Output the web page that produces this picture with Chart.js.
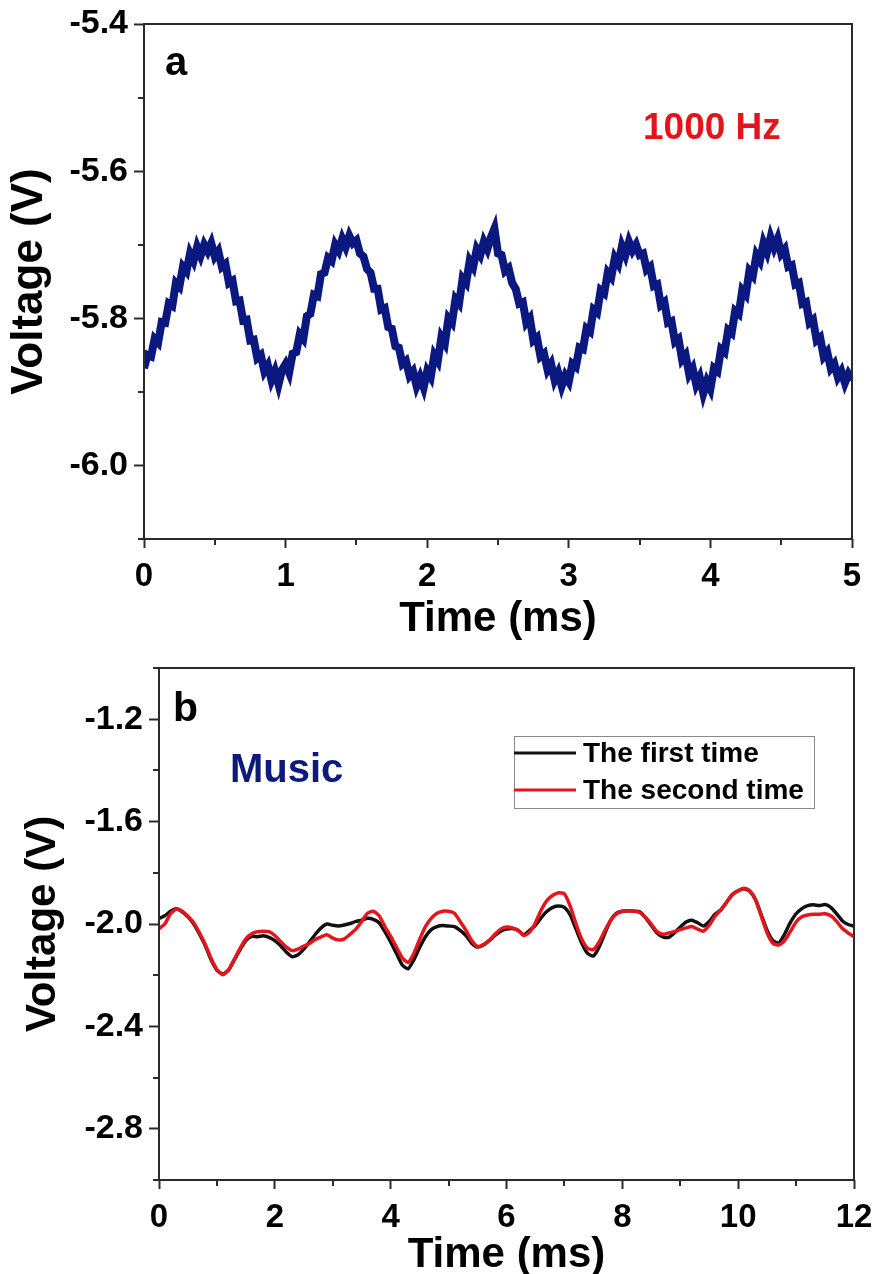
<!DOCTYPE html>
<html>
<head>
<meta charset="utf-8">
<script src="https://cdn.jsdelivr.net/npm/chart.js@4.4.1/dist/chart.umd.min.js"></script>
<style>
  html, body { margin: 0; padding: 0; background: #fff; }
  body { width: 876px; height: 1274px; position: relative; overflow: hidden;
         font-family: "Liberation Sans", Arial, sans-serif; }
  .panel { position: absolute; left: 0; width: 876px; }
  #pa { top: 0; height: 640px; }
  #pb { top: 640px; height: 634px; }
  .note { position: absolute; font-weight: bold; white-space: nowrap; line-height: 1; }
  #la { left: 165px; top: 41px; font-size: 40px; color: #000; }
  #hz { left: 643px; top: 108px; font-size: 37px; color: #e3141c; }
  #lb { left: 173px; top: 687px; font-size: 41px; color: #000; }
  #mu { left: 230px; top: 748px; font-size: 40px; color: #0c1a7c; }
</style>
</head>
<body>
<div class="panel" id="pa"><canvas id="ca"></canvas></div>
<div class="panel" id="pb"><canvas id="cb"></canvas></div>
<div class="note" id="la">a</div>
<div class="note" id="hz">1000 Hz</div>
<div class="note" id="lb">b</div>
<div class="note" id="mu">Music</div>
<script>
// ---------- Panel a: 1000 Hz tone, sampled every 0.025 ms ----------
const stepA = 0.025;
const voltA = [
  -5.868,-5.850,-5.852,-5.828,-5.833,-5.805,-5.806,-5.780,-5.783,-5.752,
  -5.757,-5.730,-5.736,-5.712,-5.722,-5.703,-5.715,-5.700,-5.709,-5.698,
  -5.716,-5.709,-5.730,-5.726,-5.752,-5.749,-5.777,-5.776,-5.803,-5.802,
  -5.830,-5.829,-5.854,-5.850,-5.872,-5.864,-5.884,-5.872,-5.890,-5.870,
  -5.862,-5.874,-5.848,-5.846,-5.822,-5.828,-5.797,-5.794,-5.768,-5.770,
  -5.740,-5.738,-5.718,-5.722,-5.700,-5.708,-5.692,-5.703,-5.688,-5.698,
  -5.694,-5.712,-5.716,-5.733,-5.738,-5.760,-5.760,-5.788,-5.786,-5.812,
  -5.814,-5.838,-5.840,-5.862,-5.858,-5.878,-5.872,-5.892,-5.880,-5.894,
  -5.872,-5.880,-5.850,-5.858,-5.826,-5.834,-5.800,-5.806,-5.774,-5.780,
  -5.746,-5.752,-5.722,-5.730,-5.706,-5.714,-5.696,-5.706,-5.690,-5.678,
  -5.712,-5.714,-5.736,-5.732,-5.752,-5.760,-5.780,-5.778,-5.806,-5.800,
  -5.830,-5.826,-5.852,-5.848,-5.870,-5.862,-5.884,-5.874,-5.892,-5.878,
  -5.886,-5.862,-5.866,-5.840,-5.842,-5.814,-5.818,-5.788,-5.792,-5.762,
  -5.766,-5.738,-5.744,-5.718,-5.726,-5.702,-5.714,-5.696,-5.708,-5.700,
  -5.714,-5.712,-5.734,-5.730,-5.756,-5.754,-5.782,-5.778,-5.806,-5.804,
  -5.832,-5.828,-5.856,-5.850,-5.876,-5.868,-5.890,-5.880,-5.902,-5.886,
  -5.896,-5.868,-5.872,-5.842,-5.846,-5.816,-5.820,-5.790,-5.794,-5.762,
  -5.768,-5.736,-5.742,-5.714,-5.722,-5.698,-5.710,-5.690,-5.704,-5.692,
  -5.712,-5.706,-5.730,-5.728,-5.754,-5.752,-5.780,-5.778,-5.806,-5.802,
  -5.830,-5.826,-5.852,-5.846,-5.868,-5.862,-5.880,-5.872,-5.888,-5.876,
  -5.884
];
const xTicksA = [0, 1, 2, 3, 4, 5];
const xMinorA = [0.5, 1.5, 2.5, 3.5, 4.5];
const yTicksA = [-6.0, -5.8, -5.6, -5.4];
const yMinorA = [-6.1, -5.9, -5.7, -5.5];

// ---------- Panel b: music signal, two recordings, every 0.1 ms ----------
const stepB = 0.1;
const firstTime = [
  -1.978,-1.968,-1.950,-1.940,-1.952,-1.972,-2.000,-2.040,-2.085,-2.140,
  -2.180,-2.195,-2.180,-2.140,-2.100,-2.065,-2.048,-2.050,-2.046,-2.052,
  -2.065,-2.085,-2.110,-2.128,-2.120,-2.098,-2.070,-2.040,-2.015,-2.000,
  -2.005,-2.008,-2.004,-1.998,-1.990,-1.985,-1.978,-1.982,-1.995,-2.030,
  -2.070,-2.115,-2.160,-2.175,-2.140,-2.092,-2.050,-2.022,-2.010,-2.006,
  -2.008,-2.010,-2.025,-2.045,-2.075,-2.090,-2.082,-2.065,-2.045,-2.028,
  -2.020,-2.018,-2.025,-2.042,-2.025,-2.005,-1.975,-1.950,-1.935,-1.930,
  -1.935,-1.965,-2.020,-2.075,-2.115,-2.125,-2.090,-2.035,-1.985,-1.958,
  -1.950,-1.948,-1.950,-1.952,-1.975,-2.005,-2.035,-2.050,-2.052,-2.035,
  -2.012,-1.992,-1.985,-1.995,-2.008,-1.990,-1.962,-1.945,-1.915,-1.885,
  -1.870,-1.862,-1.872,-1.905,-1.965,-2.025,-2.065,-2.075,-2.040,-1.995,
  -1.960,-1.940,-1.928,-1.925,-1.928,-1.924,-1.935,-1.960,-1.988,-2.002,
  -2.008
];
const secondTime = [
  -2.018,-2.000,-1.960,-1.942,-1.950,-1.970,-1.995,-2.035,-2.080,-2.135,
  -2.178,-2.198,-2.180,-2.138,-2.095,-2.058,-2.038,-2.030,-2.028,-2.030,
  -2.045,-2.068,-2.090,-2.104,-2.098,-2.086,-2.076,-2.060,-2.050,-2.042,
  -2.055,-2.062,-2.058,-2.040,-2.020,-1.990,-1.958,-1.950,-1.968,-2.010,
  -2.048,-2.090,-2.132,-2.150,-2.115,-2.060,-2.010,-1.978,-1.958,-1.950,
  -1.950,-1.958,-1.990,-2.025,-2.065,-2.088,-2.080,-2.065,-2.040,-2.020,
  -2.012,-2.015,-2.025,-2.045,-2.032,-1.995,-1.945,-1.908,-1.888,-1.878,
  -1.882,-1.930,-2.000,-2.060,-2.095,-2.100,-2.070,-2.025,-1.985,-1.960,
  -1.950,-1.948,-1.950,-1.955,-1.975,-2.000,-2.030,-2.040,-2.035,-2.030,
  -2.022,-2.015,-2.010,-2.020,-2.028,-2.005,-1.970,-1.945,-1.915,-1.885,
  -1.870,-1.860,-1.870,-1.905,-1.970,-2.035,-2.075,-2.082,-2.065,-2.030,
  -1.992,-1.972,-1.965,-1.962,-1.962,-1.960,-1.968,-1.990,-2.018,-2.035,
  -2.050
];
const xTicksB = [0, 2, 4, 6, 8, 10, 12];
const xMinorB = [1, 3, 5, 7, 9, 11];
const yTicksB = [-2.8, -2.4, -2.0, -1.6, -1.2];
const yMinorB = [-3.0, -2.6, -2.2, -1.8, -1.4, -1.0];
const seriesNames = ['The first time', 'The second time'];

// ---------- shared styling helpers ----------
const FONT = '"Liberation Sans", Arial, sans-serif';
const AXIS = '#2b2b2b';

function toPoints(values, step) {
  return values.map((v, i) => ({ x: +(i * step).toFixed(3), y: v }));
}

// Closed frame around the plot area plus short minor ticks outside it.
const frameAndMinor = {
  id: 'frameAndMinor',
  afterDraw(chart, args, opts) {
    const { ctx, chartArea: a, scales } = chart;
    ctx.save();
    ctx.strokeStyle = AXIS;
    ctx.lineWidth = 2;
    ctx.strokeRect(a.left, a.top, a.right - a.left, a.bottom - a.top);
    ctx.beginPath();
    (opts.xMinor || []).forEach(v => {
      const px = Math.round(scales.x.getPixelForValue(v));
      ctx.moveTo(px, a.bottom); ctx.lineTo(px, a.bottom + 6);
    });
    (opts.yMinor || []).forEach(v => {
      const py = Math.round(scales.y.getPixelForValue(v));
      ctx.moveTo(a.left, py); ctx.lineTo(a.left - 6, py);
    });
    ctx.stroke();
    ctx.restore();
  }
};

// Boxed legend placed inside the plot area.
const insideLegend = {
  id: 'insideLegend',
  afterDraw(chart, args, opts) {
    if (!opts.show) return;
    const ctx = chart.ctx;
    ctx.save();
    ctx.strokeStyle = '#8a8a8a';
    ctx.lineWidth = 1;
    ctx.strokeRect(opts.x + 0.5, opts.y + 0.5, opts.w, opts.h);
    ctx.font = 'bold ' + opts.fontSize + 'px ' + FONT;
    ctx.textBaseline = 'middle';
    ctx.fillStyle = '#000';
    chart.data.datasets.forEach((ds, i) => {
      const yy = opts.y + opts.rowTop + i * opts.rowGap;
      ctx.strokeStyle = ds.borderColor;
      ctx.lineWidth = 3;
      ctx.beginPath();
      ctx.moveTo(opts.x, yy); ctx.lineTo(opts.x + opts.lineLen, yy);
      ctx.stroke();
      ctx.fillText(ds.label, opts.x + opts.lineLen + 7, yy + 1);
    });
    ctx.restore();
  }
};

function makeScales(cfg) {
  return {
    x: {
      type: 'linear', min: cfg.xMin, max: cfg.xMax,
      afterBuildTicks: s => { s.ticks = cfg.xTicks.map(v => ({ value: v })); },
      afterFit: s => { s.height = cfg.xHeight; s.paddingLeft = 0; s.paddingRight = 0; },
      ticks: { color: '#000', font: { family: FONT, size: 33, weight: 'bold' },
               padding: 9, maxRotation: 0, autoSkip: false,
               callback: v => String(v) },
      grid: { drawOnChartArea: false, drawTicks: true, tickLength: 9,
              tickWidth: 2, tickColor: AXIS },
      border: { display: false },
      title: { display: true, text: 'Time (ms)', color: '#000',
               font: { family: FONT, size: 42, weight: 'bold', lineHeight: 1 },
               padding: { top: 0, bottom: cfg.xTitlePad } }
    },
    y: {
      type: 'linear', min: cfg.yMin, max: cfg.yMax,
      afterBuildTicks: s => { s.ticks = cfg.yTicks.map(v => ({ value: v })); },
      afterFit: s => { s.width = cfg.yWidth; s.paddingTop = 0; s.paddingBottom = 0; },
      ticks: { color: '#000', font: { family: FONT, size: 34, weight: 'bold' },
               padding: 6, autoSkip: false,
               callback: v => Number(v).toFixed(1) },
      grid: { drawOnChartArea: false, drawTicks: true, tickLength: 10,
              tickWidth: 2, tickColor: AXIS },
      border: { display: false },
      title: { display: true, text: 'Voltage (V)', color: '#000',
               font: { family: FONT, size: cfg.yTitleSize, weight: 'bold', lineHeight: 1 },
               padding: { top: cfg.yTitlePad, bottom: 0 } }
    }
  };
}

Chart.defaults.animation = false;
Chart.defaults.devicePixelRatio = 1;

new Chart(document.getElementById('ca'), {
  type: 'line',
  data: {
    datasets: [{
      label: '1000 Hz',
      data: toPoints(voltA, stepA),
      borderColor: '#0b1880',
      borderWidth: 8,
      pointRadius: 0,
      tension: 0
    }]
  },
  options: {
    responsive: true, maintainAspectRatio: false,
    layout: { padding: { top: 24, right: 24, left: 0, bottom: 0 } },
    plugins: {
      legend: { display: false }, tooltip: { enabled: false },
      frameAndMinor: { xMinor: xMinorA, yMinor: yMinorA },
      insideLegend: { show: false }
    },
    scales: makeScales({
      xMin: 0, xMax: 5, xTicks: xTicksA, xHeight: 101, xTitlePad: 0,
      yMin: -6.1, yMax: -5.4, yTicks: yTicksA, yWidth: 144,
      yTitleSize: 44, yTitlePad: 8
    })
  },
  plugins: [frameAndMinor, insideLegend]
});

new Chart(document.getElementById('cb'), {
  type: 'line',
  data: {
    datasets: [
      { label: seriesNames[0], data: toPoints(firstTime, stepB),
        borderColor: '#111111', borderWidth: 3.5, pointRadius: 0, tension: 0.2, order: 1 },
      { label: seriesNames[1], data: toPoints(secondTime, stepB),
        borderColor: '#e3161c', borderWidth: 3.5, pointRadius: 0, tension: 0.2, order: 0 }
    ]
  },
  options: {
    responsive: true, maintainAspectRatio: false,
    layout: { padding: { top: 28, right: 22, left: 0, bottom: 0 } },
    plugins: {
      legend: { display: false }, tooltip: { enabled: false },
      frameAndMinor: { xMinor: xMinorB, yMinor: yMinorB },
      insideLegend: { show: true, x: 514, y: 96, w: 300, h: 72,
                      lineLen: 62, rowTop: 17, rowGap: 37, fontSize: 28 }
    },
    scales: makeScales({
      xMin: 0, xMax: 12, xTicks: xTicksB, xHeight: 94, xTitlePad: -2,
      yMin: -3.0, yMax: -1.0, yTicks: yTicksB, yWidth: 159,
      yTitleSize: 42, yTitlePad: 22
    })
  },
  plugins: [frameAndMinor, insideLegend]
});
</script>
</body>
</html>
